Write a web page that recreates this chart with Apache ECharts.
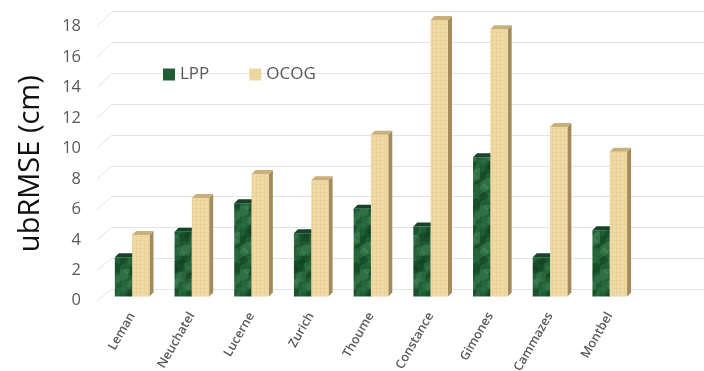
<!DOCTYPE html>
<html>
<head>
<meta charset="utf-8">
<script src="https://cdn.jsdelivr.net/npm/echarts@6/dist/echarts.min.js"></script>
<style>
  html, body { margin: 0; padding: 0; background: #ffffff; }
  #chart { width: 704px; height: 371px; }
</style>
</head>
<body>
<div id="chart"></div>
<script>
// Lakes / reservoirs and their unbiased RMSE (cm) for the two products
const categories = ['Leman', 'Neuchatel', 'Lucerne', 'Zurich', 'Thoume', 'Constance', 'Gimones', 'Cammazes', 'Montbel'];
const lppValues  = [2.55, 4.2, 6.05, 4.1, 5.7, 4.55, 9.05, 2.55, 4.3];
const ocogValues = [4.0, 6.4, 7.95, 7.55, 10.5, 17.95, 17.35, 11.0, 9.4];
const yTicks = [0, 2, 4, 6, 8, 10, 12, 14, 16, 18];

const Y_MIN = 0, Y_MAX = 18, Y_STEP = 2;

// Pseudo-3D planes: labels sit on the front edge, gridlines on the back wall
const FRONT = { left: 97, top: 26.7, bottom: 300.7 };
const BACK  = { left: 112, top: 11.7, bottom: 289 };
const DEPTH = { dx: 4, dy: -4 };
const BAR_FRAC = 0.29;

const FONT = "'Open Sans', 'DejaVu Sans', sans-serif";
const TEXT_GREY = '#595959';
const GRID_GREY = '#e4e4e4';

// Marbled green fill for LPP
function marbleCanvas() {
  const c = document.createElement('canvas');
  c.width = 40; c.height = 64;
  const g = c.getContext('2d');
  g.fillStyle = '#1f5d34';
  g.fillRect(0, 0, c.width, c.height);
  for (let k = 0; k < 60; k++) {
    const x = (k * 37) % 40;
    const y = (k * 53) % 64;
    const r = 2 + (k % 5);
    g.beginPath();
    g.arc(x, y, r, 0, Math.PI * 2);
    g.fillStyle = k % 3 === 0 ? 'rgba(110,175,125,0.22)' : (k % 3 === 1 ? 'rgba(12,48,24,0.35)' : 'rgba(60,130,80,0.25)');
    g.fill();
  }
  return c;
}

// Fine woven beige fill for OCOG
function weaveCanvas() {
  const c = document.createElement('canvas');
  c.width = 4; c.height = 4;
  const g = c.getContext('2d');
  g.fillStyle = '#f0daa4';
  g.fillRect(0, 0, 4, 4);
  g.fillStyle = 'rgba(225,200,140,0.35)';
  g.fillRect(0, 0, 4, 1);
  g.fillRect(0, 0, 1, 4);
  return c;
}

const lppFill = { image: marbleCanvas(), repeat: 'repeat' };
const ocogFill = { image: weaveCanvas(), repeat: 'repeat' };

function barRenderer(side, faceFill, topColor, sideColor) {
  return function (params, api) {
    const idx = api.value(0);
    const val = api.value(1);
    const top = api.coord([idx, val]);
    const base = api.coord([idx, 0]);
    const bw = api.size([1, 0])[0] * BAR_FRAC;
    const x0 = side === 0 ? top[0] - bw : top[0];
    const x1 = x0 + bw;
    const ty = top[1], by = base[1];
    const dx = DEPTH.dx, dy = DEPTH.dy;
    return {
      type: 'group',
      children: [
        {
          type: 'polygon',
          shape: { points: [[x1, ty], [x1 + dx, ty + dy], [x1 + dx, by + dy], [x1, by]] },
          style: { fill: sideColor }
        },
        {
          type: 'rect',
          shape: { x: x0, y: ty, width: bw, height: by - ty },
          style: { fill: faceFill }
        },
        {
          type: 'polygon',
          shape: { points: [[x0, ty], [x0 + dx, ty + dy], [x1 + dx, ty + dy], [x1, ty]] },
          style: { fill: topColor }
        }
      ]
    };
  };
}

// Left side-wall segments joining the front labels to the back-wall gridlines
function slantRenderer(params, api) {
  const v = api.value(1);
  const front = api.coord([0, v]);
  const fx = params.coordSys.x;
  const bY = BACK.bottom - (v - Y_MIN) / (Y_MAX - Y_MIN) * (BACK.bottom - BACK.top);
  return {
    type: 'line',
    shape: { x1: fx, y1: front[1], x2: BACK.left, y2: bY },
    style: { stroke: GRID_GREY, lineWidth: 1 }
  };
}

const chart = echarts.init(document.getElementById('chart'), null, { renderer: 'canvas' });

chart.setOption({
  backgroundColor: '#ffffff',
  animation: false,
  legend: {
    data: ['LPP', 'OCOG'],
    left: 158,
    top: 61,
    itemWidth: 12,
    itemHeight: 12,
    itemGap: 40,
    icon: 'rect',
    textStyle: { fontFamily: FONT, fontSize: 17, color: TEXT_GREY }
  },
  grid: [
    { left: BACK.left, right: 0, top: BACK.top, bottom: 371 - BACK.bottom, containLabel: false, outerBoundsMode: 'none' },
    { left: FRONT.left, right: 0, top: FRONT.top, bottom: 371 - FRONT.bottom, containLabel: false, outerBoundsMode: 'none' },
    { left: 102.3, right: 64.4, top: 296.5 - 18 * 15.4, bottom: 371 - 296.5, containLabel: false, outerBoundsMode: 'none' }
  ],
  xAxis: [
    { gridIndex: 0, type: 'value', min: 0, max: 1, show: false },
    { gridIndex: 1, type: 'value', min: 0, max: 1, show: false },
    {
      gridIndex: 2,
      type: 'category',
      data: categories,
      axisLine: { show: false },
      axisTick: { show: false },
      axisLabel: {
        rotate: 60,
        margin: 17,
        interval: 0,
        hideOverlap: false,
        fontFamily: FONT,
        fontSize: 12.5,
        fontWeight: 600,
        color: TEXT_GREY
      }
    }
  ],
  yAxis: [
    {
      gridIndex: 0, type: 'value', min: Y_MIN, max: Y_MAX, interval: Y_STEP,
      axisLine: { show: false }, axisTick: { show: false }, axisLabel: { show: false },
      splitLine: { show: true, lineStyle: { color: GRID_GREY, width: 1 } }
    },
    {
      gridIndex: 1, type: 'value', min: Y_MIN, max: Y_MAX, interval: Y_STEP,
      axisLine: { show: false }, axisTick: { show: false },
      splitLine: { show: false },
      axisLabel: {
        margin: 16,
        fontFamily: FONT,
        fontSize: 16.5,
        color: TEXT_GREY,
        formatter: function (v) { return yTicks.indexOf(v) >= 0 ? String(v) : ''; }
      },
      name: 'ubRMSE (cm)',
      nameLocation: 'middle',
      nameGap: 52,
      nameTextStyle: { fontFamily: FONT, fontSize: 29, color: '#111111' }
    },
    {
      gridIndex: 2, type: 'value', min: Y_MIN, max: Y_MAX, interval: Y_STEP,
      show: false
    }
  ],
  series: [
    {
      type: 'custom',
      name: 'wall',
      xAxisIndex: 1, yAxisIndex: 1,
      renderItem: slantRenderer,
      data: yTicks.map(function (t) { return [0, t]; }),
      silent: true,
      z: 1
    },
    {
      type: 'custom',
      name: 'LPP',
      xAxisIndex: 2, yAxisIndex: 2,
      itemStyle: { color: '#1f5d34' },
      renderItem: barRenderer(0, lppFill, '#164428', '#123820'),
      data: lppValues.map(function (v, i) { return [i, v]; }),
      z: 3
    },
    {
      type: 'custom',
      name: 'OCOG',
      xAxisIndex: 2, yAxisIndex: 2,
      itemStyle: { color: '#ecd69e' },
      renderItem: barRenderer(1, ocogFill, '#c8b07a', '#a38b5b'),
      data: ocogValues.map(function (v, i) { return [i, v]; }),
      z: 4
    }
  ]
});
</script>
</body>
</html>
